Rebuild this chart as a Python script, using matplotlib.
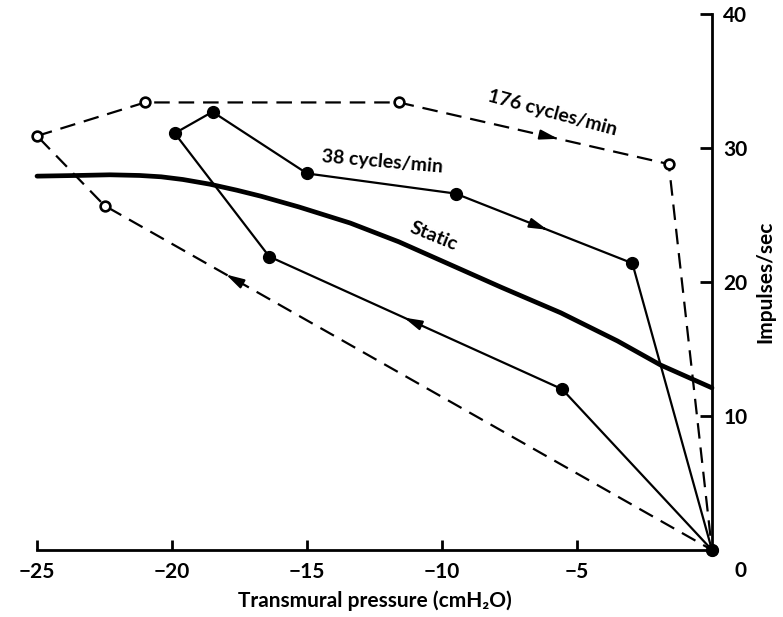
import numpy as np
import matplotlib
matplotlib.use("Agg")
import matplotlib.pyplot as plt

plt.rcParams['font.family'] = ['Lato', 'DejaVu Sans']
plt.rcParams['font.weight'] = 'bold'
plt.rcParams['axes.labelweight'] = 'bold'

# 176 cycles/min (open circles, dashed loop)
fast_x = [-25.0, -21.0, -11.6, -1.6, 0.0, -22.5, -25.0]
fast_y = [30.9, 33.4, 33.4, 28.8, 0.0, 25.7, 30.9]

# 38 cycles/min (filled circles, solid loop)
slow_x = [-19.9, -18.5, -15.0, -9.5, -2.95, 0.0, -5.55, -16.4, -19.9]
slow_y = [31.1, 32.7, 28.1, 26.6, 21.4, 0.0, 12.0, 21.9, 31.1]

# static curve
static_x = [-25.0, -23.5, -22.3, -21.2, -20.4, -19.6, -18.6, -17.6, -16.7, -15.3, -13.4,
            -11.6, -9.7, -7.8, -5.6, -3.5, -1.9, 0.0]
static_y = [27.9, 27.95, 28.0, 27.95, 27.85, 27.65, 27.3, 26.85, 26.4, 25.6, 24.4,
            23.0, 21.3, 19.6, 17.7, 15.6, 13.8, 12.1]

xticks = [-25, -20, -15, -10, -5]
yticks = [10, 20, 30, 40]

fig = plt.figure(figsize=(7.83, 6.17), dpi=100)
ax = fig.add_axes([0.0473, 0.1086, 0.8620, 0.8687])

ax.plot(static_x, static_y, color='black', lw=3.4, solid_capstyle='round',
        solid_joinstyle='round', clip_on=False)

ax.plot(fast_x, fast_y, color='black', lw=1.6, dashes=(7, 4), clip_on=False)
ax.plot(fast_x[:-1], fast_y[:-1], 'o', ms=7, mfc='white', mec='black', mew=1.9,
        clip_on=False, zorder=4)

ax.plot(slow_x, slow_y, color='black', lw=1.6, clip_on=False)
ax.plot(slow_x[:-1], slow_y[:-1], 'o', ms=8.5, color='black', clip_on=False, zorder=4)


def arrow(xs, ys, i, f):
    # arrowhead at fraction f along segment i -> i+1
    x0, y0, x1, y1 = xs[i], ys[i], xs[i + 1], ys[i + 1]
    px, py = x0 + f * (x1 - x0), y0 + f * (y1 - y0)
    qx, qy = x0 + (f - 0.02) * (x1 - x0), y0 + (f - 0.02) * (y1 - y0)
    ax.annotate('', xy=(px, py), xytext=(qx, qy),
                arrowprops=dict(arrowstyle='-|>,head_length=1.1,head_width=0.3',
                                color='black', lw=1.4, shrinkA=0, shrinkB=0))


arrow(fast_x, fast_y, 2, 0.59)
arrow(fast_x, fast_y, 4, 0.80)
arrow(slow_x, slow_y, 3, 0.52)
arrow(slow_x, slow_y, 6, 0.54)

ax.text(-5.9, 32.6, '176 cycles/min', rotation=-15, fontsize=14, ha='center', va='center')
ax.text(-12.2, 29.0, '38 cycles/min', rotation=-5, fontsize=14, ha='center', va='center')
ax.text(-10.3, 23.4, 'Static', rotation=-22, fontsize=14, ha='center', va='center')

ax.set_xlim(-25, 0)
ax.set_ylim(0, 40)
for s in ['left', 'top']:
    ax.spines[s].set_visible(False)
ax.spines['bottom'].set_linewidth(2)
ax.spines['right'].set_linewidth(2)

ax.set_xticks(xticks)
ax.set_xticklabels([str(v).replace('-', '\u2212') for v in xticks], fontsize=15)
ax.tick_params(axis='x', direction='in', length=7, width=2, pad=9)
ax.yaxis.tick_right()
ax.set_yticks(yticks)
ax.tick_params(axis='y', direction='in', length=9, width=2, labelsize=15, pad=8)
ax.text(1.05, -1.6, '0', fontsize=15, ha='center', va='center', clip_on=False)

ax.set_xlabel('Transmural pressure (cmH\u2082O)', fontsize=15, labelpad=6)
ax.yaxis.set_label_position('right')
ax.set_ylabel('Impulses/sec', fontsize=15, labelpad=6)

fig.savefig('out.png', dpi=100)
